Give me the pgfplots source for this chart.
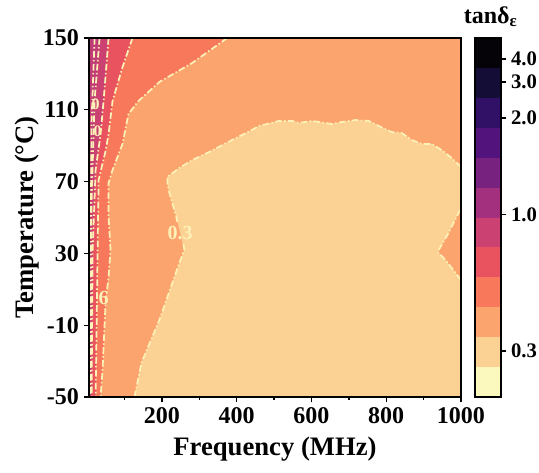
\documentclass[border=0pt]{standalone}
\usepackage{pgfplots}
\pgfplotsset{compat=1.18}
\usepackage{fontspec}
\setmainfont{Liberation Serif}
\definecolor{b1}{HTML}{FCF9BF}
\definecolor{b2}{HTML}{FCD294}
\definecolor{b3}{HTML}{FCA46E}
\definecolor{b4}{HTML}{F8785C}
\definecolor{b5}{HTML}{E8535F}
\definecolor{b6}{HTML}{CB4171}
\definecolor{b7}{HTML}{A3307E}
\definecolor{b8}{HTML}{77227F}
\definecolor{b9}{HTML}{52137C}
\definecolor{b10}{HTML}{311165}
\definecolor{b11}{HTML}{140E36}
\definecolor{b12}{HTML}{050308}
\definecolor{lc}{HTML}{FCF1B6}
\definecolor{leftc}{HTML}{C03C77}
\pgfplotsset{cl/.style={draw=lc, line width=1.3pt, dash pattern=on 5pt off 1.8pt on 1.1pt off 1.8pt}}
\begin{document}
\begin{tikzpicture}
\begin{axis}[at={(0pt,0pt)}, anchor=south west, scale only axis,
  width=279pt, height=269.25pt,
  xmin=5, xmax=1000, ymin=-50, ymax=150,
  xtick={200,400,600,800,1000}, xticklabels={200,400,600,800,1000},
  minor xtick={100,300,500,700,900},
  ytick={-50,-10,30,70,110,150}, yticklabels={-50,-10,30,70,110,150},
  tick align=outside, xtick pos=left, ytick pos=left,
  major tick length=4pt, minor tick length=2.5pt,
  axis line style={line width=1.2pt}, every tick/.style={black, line width=1pt},
  tick label style={font=\fontsize{18}{18}\selectfont\bfseries},
  xlabel={Frequency (MHz)}, ylabel={Temperature (°C)},
  label style={font=\fontsize{20}{20}\selectfont\bfseries},
  xlabel style={at={(axis description cs:0.5,-0.164)}, anchor=base},
  ylabel style={at={(axis description cs:-0.167,0.5)}, anchor=center},
  axis on top]
\addplot[fill=leftc, draw=none] coordinates {(5,-50)(1000,-50)(1000,150)(5,150)} --cycle;
\addplot[fill=b6, draw=none] coordinates {(33.3,150)(20,115.5)(12,59.7)(9.3,-50)(1000,-50)(1000,150)} --cycle;
\addplot[fill=b5, draw=none] coordinates {(57.3,150)(44,114.9)(36,96.5)(22.7,76.5)(14.7,31.9)(12,-50)(1000,-50)(1000,150)} --cycle;
\addplot[fill=b4, draw=none] coordinates {(121.3,150)(94.7,133.8)(68,114.9)(57.3,96.5)(49.3,87.1)(30.7,70.9)(28,31.9)(25.3,-12.6)(22.7,-50)(1000,-50)(1000,150)} --cycle;
\addplot[fill=b3, draw=none] coordinates {(374.7,150)(281.3,136.1)(193.3,125.5)(137.3,114.9)(110.7,107.7)(94.7,91.0)(68,76.5)(57.3,69.2)(57.3,50.3)(62.7,31.9)(57.3,16.9)(49.3,2.4)(41.3,-34.9)(36,-50)(1000,-50)(1000,150)} --cycle;
\addplot[fill=b2, draw=none] coordinates {(126.7,-50)(1000,-50)(1000,15.2)(958.7,26.3)(937.3,30.8)(966.7,41.4)(1000,55.3)(1000,78.1)(974.7,83.2)(948,87.6)(921.3,91.0)(894.7,91.0)(868,93.2)(841.3,97.1)(814.7,97.6)(780,101.0)(753.3,103.8)(718.7,104.3)(681.3,103.2)(654.7,102.1)(601.3,103.8)(566.7,102.7)(548,103.8)(513.3,103.8)(460,101.0)(425.3,97.1)(372,91.5)(326.7,86.5)(281.3,82.0)(246.7,77.6)(214.7,72.6)(214.7,69.2)(220,63.7)(238.7,50.3)(260,31.9)(246.7,24.7)(193.3,-7.1)(185.3,-11.0)(145.3,-31.0)} --cycle;
% contour lines
\addplot[cl] coordinates {(1000,78.1)(974.7,83.2)(948,87.6)(921.3,91.0)(894.7,91.0)(868,93.2)(841.3,97.1)(814.7,97.6)(780,101.0)(753.3,103.8)(718.7,104.3)(681.3,103.2)(654.7,102.1)(601.3,103.8)(566.7,102.7)(548,103.8)(513.3,103.8)(460,101.0)(425.3,97.1)(372,91.5)(326.7,86.5)(281.3,82.0)(246.7,77.6)(214.7,72.6)(214.7,69.2)(220,63.7)(238.7,50.3)(241.3,47.5)};
\addplot[cl] coordinates {(257.3,35.3)(260,31.9)(246.7,24.7)(193.3,-7.1)(185.3,-11.0)(145.3,-31.0)(126.7,-50)};
\addplot[cl] coordinates {(1000,15.2)(958.7,26.3)(937.3,30.8)(966.7,41.4)(1000,55.3)};
\addplot[cl] coordinates {(374.7,150)(281.3,136.1)(193.3,125.5)(137.3,114.9)(110.7,107.7)(94.7,91.0)(68,76.5)(57.3,69.2)(57.3,50.3)(62.7,31.9)(57.3,16.9)(49.3,2.4)(41.3,-34.9)(36,-50)};
\addplot[cl] coordinates {(121.3,150)(94.7,133.8)(68,114.9)(57.3,96.5)(49.3,87.1)(30.7,70.9)(28,31.9)(25.3,-12.6)(22.7,-50)};
\addplot[cl] coordinates {(57.3,150)(44,114.9)(36,96.5)(22.7,76.5)(14.7,31.9)(12,-50)};
\addplot[cl] coordinates {(33.3,150)(20,115.5)(12,59.7)(9.3,-50)};
\addplot[cl] coordinates {(20,150)(12,104)(8,0)(7,-50)};
\node[text=lc, font=\fontsize{15}{15}\selectfont\bfseries] at (axis cs:249,41.4) {0.3};
\node[text=lc, font=\fontsize{15}{15}\selectfont\bfseries] at (axis cs:44,5.2) {6};
\node[text=lc, font=\fontsize{12}{12}\selectfont\bfseries] at (axis cs:22.7,113) {0};
\node[text=lc, font=\fontsize{12}{12}\selectfont\bfseries] at (axis cs:28,98.2) {0};
\end{axis}
\begin{axis}[at={(289.5pt,0pt)}, anchor=south west, scale only axis,
  width=19.5pt, height=269.25pt,
  xmin=0, xmax=1, ymin=0, ymax=12,
  xtick=\empty,
  ytick={1.54,6.09,9.33,10.53,11.30}, yticklabels={0.3,1.0,2.0,3.0,4.0},
  ytick pos=right, yticklabel pos=right, tick align=outside,
  major tick length=4pt,
  axis line style={line width=1.2pt}, every tick/.style={black, line width=1pt},
  tick label style={font=\fontsize{15.5}{15.5}\selectfont\bfseries},
  title={tanδ\textsubscript{ε}},
  title style={font=\fontsize{18}{18}\selectfont\bfseries, at={(0.5,1)}, anchor=base, yshift=5pt, xshift=2pt},
  axis on top]
\addplot[fill=b1, draw=none] coordinates {(0,0)(1,0)(1,1)(0,1)} --cycle;
\addplot[fill=b2, draw=none] coordinates {(0,1)(1,1)(1,2)(0,2)} --cycle;
\addplot[fill=b3, draw=none] coordinates {(0,2)(1,2)(1,3)(0,3)} --cycle;
\addplot[fill=b4, draw=none] coordinates {(0,3)(1,3)(1,4)(0,4)} --cycle;
\addplot[fill=b5, draw=none] coordinates {(0,4)(1,4)(1,5)(0,5)} --cycle;
\addplot[fill=b6, draw=none] coordinates {(0,5)(1,5)(1,6)(0,6)} --cycle;
\addplot[fill=b7, draw=none] coordinates {(0,6)(1,6)(1,7)(0,7)} --cycle;
\addplot[fill=b8, draw=none] coordinates {(0,7)(1,7)(1,8)(0,8)} --cycle;
\addplot[fill=b9, draw=none] coordinates {(0,8)(1,8)(1,9)(0,9)} --cycle;
\addplot[fill=b10, draw=none] coordinates {(0,9)(1,9)(1,10)(0,10)} --cycle;
\addplot[fill=b11, draw=none] coordinates {(0,10)(1,10)(1,11)(0,11)} --cycle;
\addplot[fill=b12, draw=none] coordinates {(0,11)(1,11)(1,12)(0,12)} --cycle;
\end{axis}
\pgfresetboundingbox
\path[use as bounding box] (-66.75pt,-56.25pt) rectangle (337.5pt,297.75pt);
\end{tikzpicture}
\end{document}
